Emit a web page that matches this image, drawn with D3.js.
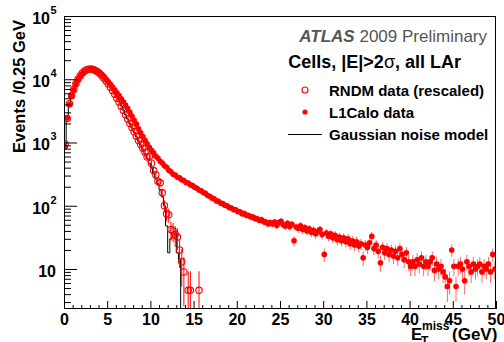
<!DOCTYPE html>
<html>
<head>
<meta charset="utf-8">
<script src="https://cdn.jsdelivr.net/npm/d3@7"></script>
<style>
  body { margin: 0; background: #fff; }
  svg { display: block; font-family: "Liberation Sans", Arial, Helvetica, sans-serif; }
</style>
</head>
<body>
<svg id="chart" width="504" height="342"></svg>
<script>
// bins of 0.25 GeV, first bin [0, 0.25]
const binWidth = 0.25;

// L1Calo data (filled markers), 200 bins 0..50 GeV
const l1caloData = [
  850, 2450, 4000, 5400, 6800, 8400, 9800, 11100, 12200, 13100, 13700, 14100, 14300, 14200, 13900, 13400, 12700, 11900, 11000, 10000,
  9100, 8300, 7500, 6800, 6100, 5500, 4900, 4400, 3900, 3450, 3000, 2600, 2250, 1950, 1650, 1420, 1240, 1080, 950, 840,
  750, 690, 605, 565, 505, 475, 430, 405, 365, 345, 315, 305, 282, 276, 258, 250, 232, 228, 214, 208,
  196, 189, 177, 172, 162, 157, 145, 141, 132, 129, 120, 118, 110, 108, 102, 100, 94, 92, 87, 86,
  81, 80, 75, 75, 71, 70, 67, 66, 63, 62, 59, 60, 56, 55, 52, 54,
  52, 55, 49, 54, 57, 50, 48, 53, 47, 51, 28, 46, 44, 48, 42, 45, 40, 43, 38, 41,
  36, 39, 42, 35, 17, 37, 33, 36, 31, 34, 29, 32, 28, 31, 27, 30, 25, 28, 24, 27,
  23, 25, 15, 24, 22, 26, 33, 21, 24, 19, 12.5, 22, 18, 21, 17, 20, 16, 19, 15, 21,
  17, 14, 18, 13, 11, 13, 11, 14, 12, 15, 11, 13, 11, 13, 15, 9.5, 12, 10, 11, 9,
  7.5, 5.3, 6.5, 20, 11, 5.3, 11, 12, 10, 6.5, 13, 11, 9, 12, 10, 11, 12, 9, 11, 10,
  12, 9, 17, 10
];

// RNDM data (rescaled), open markers; 0 = empty bin
const rndmData = [
  950, 2400, 4100, 5500, 6900, 8500, 10000, 11400, 12600, 13500, 14100, 14400, 14500, 14300, 13800, 13100, 12300, 11400, 10400, 9400,
  8400, 7500, 6600, 5800, 5000, 4350, 3750, 3200, 2750, 2350, 2000, 1720, 1480, 1260, 1080, 930, 810, 700, 590, 600,
  470, 360, 310, 245, 230, 160, 100, 75, 72, 42, 40, 35, 32, 20, 13, 9,
  0, 4.6, 4.6, 0, 0, 0, 4.6
];
const rndmScale = 4.6;

// Gaussian noise model histogram
const noiseModel = [
  880, 2300, 3900, 5300, 6700, 8300, 9900, 11300, 12500, 13400, 14000, 14400, 14500, 14300, 13900, 13200, 12400, 11500, 10500, 9500,
  8500, 7600, 6700, 5900, 5100, 4400, 3800, 3250, 2750, 2350, 2000, 1700, 1450, 1230, 1050, 900, 770, 660, 560, 470,
  400, 330, 270, 220, 180, 140, 100, 48, 18, 30, 37, 37, 18, 14
];

const xMajorTicks = [0, 5, 10, 15, 20, 25, 30, 35, 40, 45, 50];
const yExponents = [1, 2, 3, 4, 5];
const legendLabels = ['RNDM data (rescaled)', 'L1Calo data', 'Gaussian noise model'];

const width = 504, height = 342;
const margin = { top: 16, right: 8, bottom: 33, left: 64 };
const RED = '#ff0000';

const svg = d3.select('#chart');

const x = d3.scaleLinear()
  .domain([0, 50])
  .range([margin.left, width - margin.right]);

const yMin = 2.33;
const y = d3.scaleLog()
  .domain([yMin, 1e5])
  .range([height - margin.bottom, margin.top]);

const yFloor = height - margin.bottom;
const yPos = v => v > yMin ? y(v) : yFloor + 2;

svg.append('clipPath').attr('id', 'plot-clip')
  .append('rect')
  .attr('x', margin.left).attr('y', margin.top)
  .attr('width', width - margin.left - margin.right)
  .attr('height', height - margin.top - margin.bottom);

const plot = svg.append('g').attr('clip-path', 'url(#plot-clip)');

// Noise model histogram (step line)
const histPoints = [[0, 0]]
  .concat(noiseModel.map((v, i) => [i * binWidth, v]))
  .concat([[noiseModel.length * binWidth, 0]]);

plot.append('path')
  .datum(histPoints)
  .attr('fill', 'none')
  .attr('stroke', '#000')
  .attr('stroke-width', 1)
  .attr('d', d3.line()
    .x(d => x(d[0]))
    .y(d => yPos(d[1]))
    .curve(d3.curveStepAfter));

// RNDM data
const rndm = rndmData.map((v, i) => ({ xc: (i + 0.5) * binWidth, v, err: Math.sqrt(v * rndmScale) }))
  .filter(d => d.v > 0);

plot.selectAll('.rndm-err')
  .data(rndm)
  .enter().append('line')
  .attr('class', 'rndm-err')
  .attr('x1', d => x(d.xc)).attr('x2', d => x(d.xc))
  .attr('y1', d => yPos(d.v + d.err))
  .attr('y2', d => yPos(d.v - d.err))
  .attr('stroke', RED)
  .attr('stroke-width', 1);

plot.selectAll('.rndm')
  .data(rndm)
  .enter().append('circle')
  .attr('class', 'rndm')
  .attr('cx', d => x(d.xc))
  .attr('cy', d => y(d.v))
  .attr('r', 3.2)
  .attr('fill', 'none')
  .attr('stroke', RED)
  .attr('stroke-width', 1.1);

// L1Calo data
const l1 = l1caloData.map((v, i) => ({ xc: (i + 0.5) * binWidth, v, err: Math.sqrt(v) }));

plot.selectAll('.l1-err')
  .data(l1)
  .enter().append('line')
  .attr('class', 'l1-err')
  .attr('x1', d => x(d.xc)).attr('x2', d => x(d.xc))
  .attr('y1', d => yPos(d.v + d.err))
  .attr('y2', d => yPos(d.v - d.err))
  .attr('stroke', RED)
  .attr('stroke-opacity', 0.6)
  .attr('stroke-width', 1);

plot.selectAll('.l1')
  .data(l1)
  .enter().append('circle')
  .attr('class', 'l1')
  .attr('cx', d => x(d.xc))
  .attr('cy', d => y(d.v))
  .attr('r', 2.8)
  .attr('fill', RED);

// Axes (ticks drawn inward, ROOT style)
const xMinor = d3.range(0, 51).filter(v => v % 5 !== 0);

svg.append('g')
  .attr('transform', `translate(0,${yFloor})`)
  .call(d3.axisBottom(x).tickValues(xMinor).tickSize(-4).tickFormat(''))
  .call(g => g.select('.domain').remove());

svg.append('g')
  .attr('class', 'x-axis')
  .attr('transform', `translate(0,${yFloor})`)
  .call(d3.axisBottom(x).tickValues(xMajorTicks).tickSizeInner(-8).tickSizeOuter(0).tickPadding(4.5).tickFormat(d3.format('d')))
  .call(g => g.select('.domain').remove())
  .call(g => g.selectAll('text')
    .attr('fill', '#000')
    .attr('font-size', '16px')
    .attr('font-weight', 'bold')
    .attr('font-family', '"Liberation Sans", Arial, sans-serif'));

const yMinor = [];
[1, 10, 100, 1000, 10000].forEach(dec => {
  for (let k = 2; k <= 9; k++) if (dec * k > yMin) yMinor.push(dec * k);
});

svg.append('g')
  .attr('transform', `translate(${margin.left},0)`)
  .call(d3.axisLeft(y).tickValues(yMinor).tickSize(-7).tickFormat(''))
  .call(g => g.select('.domain').remove());

svg.append('g')
  .attr('transform', `translate(${margin.left},0)`)
  .call(d3.axisLeft(y).tickValues(yExponents.map(e => Math.pow(10, e))).tickSize(-13).tickFormat(''))
  .call(g => g.select('.domain').remove());

svg.selectAll('g.tick line').attr('stroke', '#000');

// y tick labels 10, 10^2 ...
const yLab = svg.append('g')
  .attr('font-weight', 'bold')
  .attr('fill', '#000');

yExponents.forEach(e => {
  const ty = y(Math.pow(10, e));
  if (e === 1) {
    yLab.append('text')
      .attr('x', 56).attr('y', ty + 8)
      .attr('text-anchor', 'end')
      .attr('font-size', '16px')
      .text('10');
  } else {
    yLab.append('text')
      .attr('x', 50).attr('y', ty + 8)
      .attr('text-anchor', 'end')
      .attr('font-size', '16px')
      .text('10');
    yLab.append('text')
      .attr('x', 50.5).attr('y', ty - 2)
      .attr('font-size', '11px')
      .text(String(e));
  }
});

// Frame
svg.append('rect')
  .attr('x', margin.left + 0.5)
  .attr('y', margin.top + 0.5)
  .attr('width', width - margin.left - margin.right - 1)
  .attr('height', height - margin.top - margin.bottom - 1)
  .attr('fill', 'none')
  .attr('stroke', '#000')
  .attr('stroke-width', 1);

// Axis titles
svg.append('text')
  .attr('transform', 'translate(25,86.5) rotate(-90)')
  .attr('text-anchor', 'middle')
  .attr('font-size', '16.5px')
  .attr('font-weight', 'bold')
  .text('Events /0.25 GeV');

const xt = svg.append('g').attr('font-weight', 'bold').attr('fill', '#000');
xt.append('text').attr('x', 411).attr('y', 340).attr('font-size', '17px').text('E');
xt.append('text').attr('x', 421).attr('y', 345).attr('font-size', '12px').text('T');
xt.append('text').attr('x', 422).attr('y', 330).attr('font-size', '12px').text('miss');
xt.append('text').attr('x', 452).attr('y', 340).attr('font-size', '17px').text('(GeV)');

// Legend
const atlas = svg.append('text')
  .attr('x', 487).attr('y', 42)
  .attr('text-anchor', 'end')
  .attr('font-size', '17px')
  .attr('fill', '#555');
atlas.append('tspan').attr('font-weight', 'bold').attr('font-style', 'italic').text('ATLAS');
atlas.append('tspan').text(' 2009 Preliminary');

const cells = svg.append('text')
  .attr('x', 461).attr('y', 68)
  .attr('text-anchor', 'end')
  .attr('font-size', '18px')
  .attr('font-weight', 'bold');
cells.append('tspan').text('Cells, |E|>2');
cells.append('tspan').attr('font-weight', 'normal').text('σ');
cells.append('tspan').text(', all LAr');

const legend = svg.append('g').attr('class', 'legend');
const rowY = [90, 112, 134];

legend.append('circle').attr('cx', 305).attr('cy', rowY[0]).attr('r', 3)
  .attr('fill', 'none').attr('stroke', RED).attr('stroke-width', 1.1);
legend.append('circle').attr('cx', 305).attr('cy', rowY[1]).attr('r', 2.6)
  .attr('fill', RED);
legend.append('line').attr('x1', 288).attr('x2', 322).attr('y1', rowY[2] + 0.5).attr('y2', rowY[2] + 0.5)
  .attr('stroke', '#000').attr('stroke-width', 1);

legendLabels.forEach((t, i) => {
  legend.append('text')
    .attr('x', 329).attr('y', rowY[i] + 5.5)
    .attr('font-size', '15px')
    .attr('font-weight', 'bold')
    .text(t);
});
</script>
</body>
</html>
